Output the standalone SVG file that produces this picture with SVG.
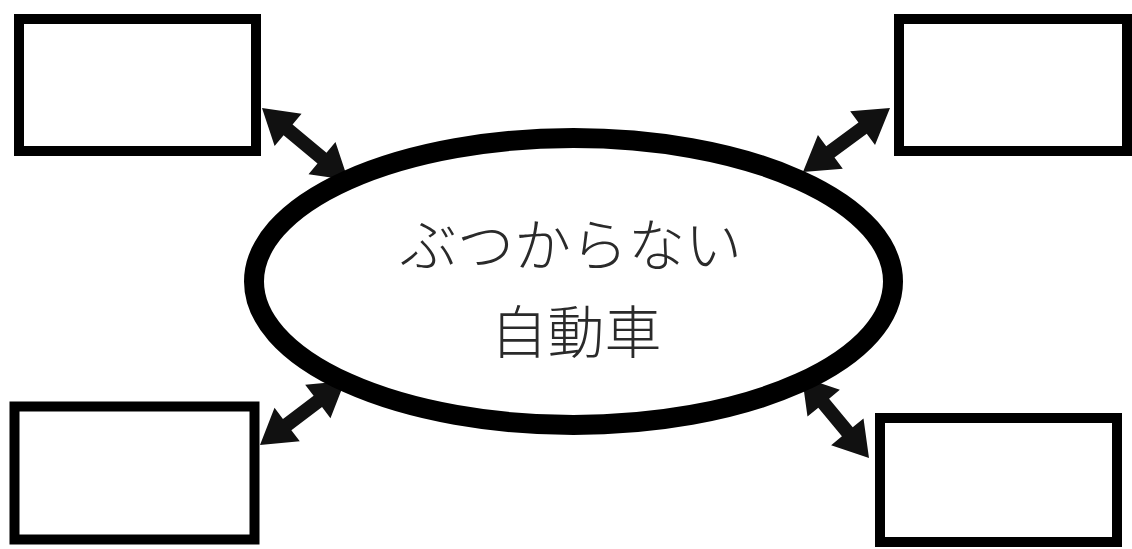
<svg xmlns="http://www.w3.org/2000/svg" width="1132" height="549" viewBox="0 0 1132 549">
<style>
.box{fill:#fff;stroke:#000;stroke-width:10}
.arr{fill:#111}
.lbl{font-family:"Noto Sans CJK JP","Noto Sans CJK SC",sans-serif;font-size:57px;font-weight:300;fill:#2a2a2a;text-anchor:middle}
</style>
<rect width="1132" height="549" fill="#fff"/>
<g id="connectors">
<g transform="translate(262,108) rotate(39.9)"><path class="arr" d="M0,0 L34,-21 L34,-7 L78.2,-7 L78.2,-21 L112.2,0 L78.2,21 L78.2,7 L34,7 L34,21 Z"/></g>
<g transform="translate(890,108) rotate(143.7)"><path class="arr" d="M0,0 L34,-21 L34,-7 L74,-7 L74,-21 L108,0 L74,21 L74,7 L34,7 L34,21 Z"/></g>
<g transform="translate(260,445) rotate(-37)"><path class="arr" d="M0,0 L34,-21 L34,-7 L72.4,-7 L72.4,-21 L106.4,0 L72.4,21 L72.4,7 L34,7 L34,21 Z"/></g>
<g transform="translate(802,377) rotate(50.4)"><path class="arr" d="M0,0 L34,-21 L34,-7 L71.1,-7 L71.1,-21 L105.1,0 L71.1,21 L71.1,7 L34,7 L34,21 Z"/></g>
</g>
<g id="center">
<ellipse cx="573.5" cy="281.5" rx="319.5" ry="143.5" fill="#fff" stroke="#000" stroke-width="20"/>
<text class="lbl" x="571" y="266">ぶつからない</text>
<text class="lbl" x="576" y="353">自動車</text>
</g>
<g id="box-tl"><rect class="box" x="19" y="19" width="237" height="132"/></g>
<g id="box-tr"><rect class="box" x="899" y="19" width="228" height="132"/></g>
<g id="box-bl"><rect class="box" x="14.5" y="406.5" width="240" height="133"/></g>
<g id="box-br"><rect class="box" x="880" y="418" width="237" height="124"/></g>
</svg>
